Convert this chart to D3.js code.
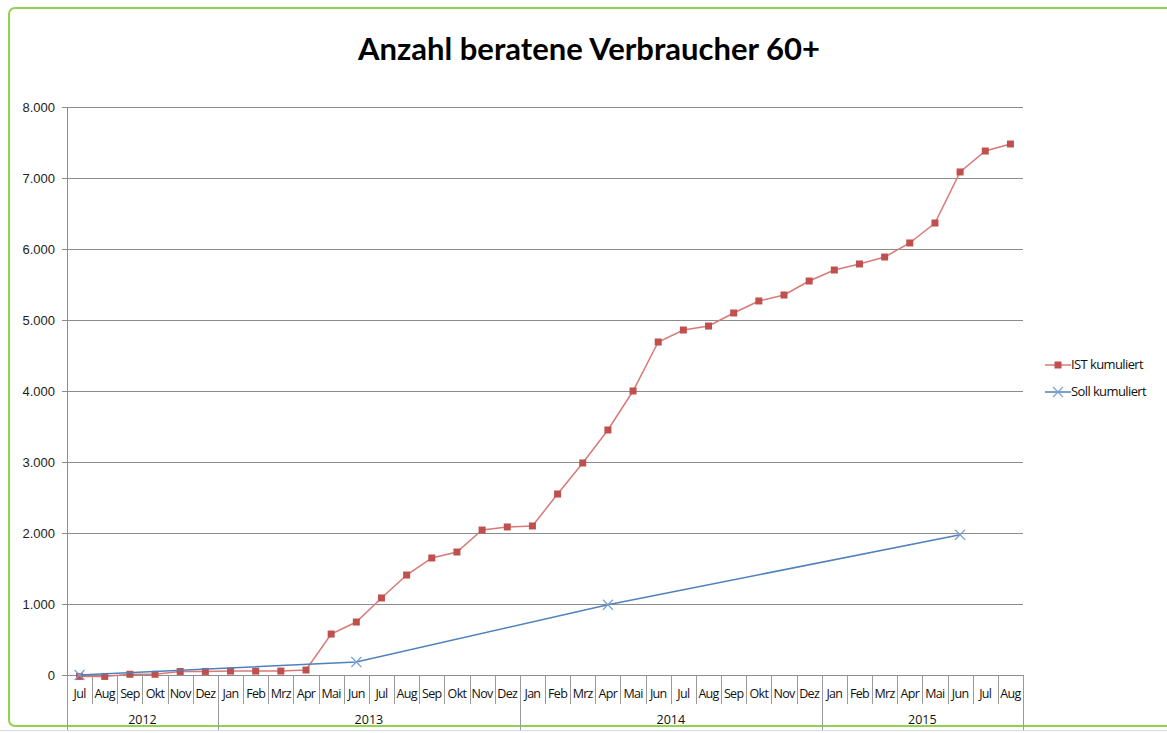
<!DOCTYPE html>
<html>
<head>
<meta charset="utf-8">
<script src="https://cdn.jsdelivr.net/npm/d3@7"></script>
<style>
  body { margin: 0; background: #fff; }
  svg { display: block; }
</style>
</head>
<body>
<div id="chart"></div>
<script>
// month categories, Jul 2012 .. Aug 2015
var months = ['Jul', 'Aug', 'Sep', 'Okt', 'Nov', 'Dez',
    'Jan', 'Feb', 'Mrz', 'Apr', 'Mai', 'Jun', 'Jul', 'Aug', 'Sep', 'Okt', 'Nov', 'Dez',
    'Jan', 'Feb', 'Mrz', 'Apr', 'Mai', 'Jun', 'Jul', 'Aug', 'Sep', 'Okt', 'Nov', 'Dez',
    'Jan', 'Feb', 'Mrz', 'Apr', 'Mai', 'Jun', 'Jul', 'Aug'];
var years = ['2012', '2013', '2014', '2015'];
var yearMonthCounts = [6, 12, 12, 8];

var istValues = [-20, -20, 10, 10, 50, 50,
    55, 55, 55, 70, 577, 746, 1085, 1408, 1648, 1732, 2042, 2085,
    2099, 2549, 2986, 3451, 4000, 4690, 4859, 4915, 5099, 5268, 5352, 5549,
    5704, 5789, 5887, 6085, 6366, 7085, 7380, 7479];
// Soll only has values at a few months, rest are gaps
var sollValues = [0, null, null, null, null, null,
    null, null, null, null, null, 183, null, null, null, null, null, null,
    null, null, null, 990, null, null, null, null, null, null, null, null,
    null, null, null, null, null, 1975, null, null];

var yTicks = [0, 1000, 2000, 3000, 4000, 5000, 6000, 7000, 8000];
var seriesNames = ['IST kumuliert', 'Soll kumuliert'];

(function () {
    var width = 1167, height = 733;
    var plotLeft = 67, plotRight = 1023, plotTop = 107, plotBottom = 675;
    var istColor = '#C0504D', sollColor = '#4F81BD';

    var svg = d3.select('#chart').append('svg')
        .attr('width', width)
        .attr('height', height);

    // green chart frame
    svg.append('rect')
        .attr('x', 9)
        .attr('y', 8)
        .attr('width', 1180)
        .attr('height', 718)
        .attr('rx', 6)
        .attr('fill', '#fff')
        .attr('stroke', '#92D050')
        .attr('stroke-width', 2);

    // faint sheet grid line at the bottom
    svg.append('line')
        .attr('x1', 0).attr('x2', width)
        .attr('y1', 730.5).attr('y2', 730.5)
        .attr('stroke', '#D0D7E5');

    svg.append('text')
        .attr('x', 589)
        .attr('y', 60)
        .attr('text-anchor', 'middle')
        .style('font-family', 'Lato, "Open Sans", sans-serif')
        .style('font-weight', 'bold')
        .style('font-size', '31px')
        .text('Anzahl beratene Verbraucher 60+');

    var x = d3.scaleBand()
        .domain(d3.range(months.length))
        .range([plotLeft, plotRight]);

    var y = d3.scaleLinear()
        .domain([0, 8000])
        .range([plotBottom, plotTop]);

    // gridlines
    svg.append('g')
        .selectAll('line')
        .data(yTicks)
        .enter()
        .append('line')
        .attr('x1', plotLeft - 5)
        .attr('x2', plotRight)
        .attr('y1', function (d) { return Math.round(y(d)) + 0.5; })
        .attr('y2', function (d) { return Math.round(y(d)) + 0.5; })
        .attr('stroke', '#8C8C8C')
        .attr('stroke-width', 1);

    // y axis
    var yAxis = d3.axisLeft(y)
        .tickValues(yTicks)
        .tickSize(0)
        .tickPadding(12)
        .tickFormat(function (d) { return d3.format(',')(d).replace(/,/g, '.'); });

    var yg = svg.append('g')
        .attr('transform', 'translate(' + plotLeft + ',0)')
        .call(yAxis);
    yg.select('.domain').remove();
    yg.selectAll('text')
        .style('font-family', '"Liberation Sans", Arial, sans-serif')
        .style('font-size', '13px')
        .attr('fill', '#222');

    svg.append('line')
        .attr('x1', plotLeft + 0.5).attr('x2', plotLeft + 0.5)
        .attr('y1', plotTop).attr('y2', plotBottom)
        .attr('stroke', '#8C8C8C');

    // category axis: month boxes and year groups
    var catG = svg.append('g');
    function edge (i) { return Math.round(plotLeft + i * x.bandwidth()) + 0.5; }

    catG.selectAll('line.month')
        .data(d3.range(months.length + 1))
        .enter()
        .append('line')
        .attr('class', 'month')
        .attr('x1', edge)
        .attr('x2', edge)
        .attr('y1', plotBottom)
        .attr('y2', plotBottom + 29)
        .attr('stroke', '#9A9A9A');

    var yearStarts = [0];
    yearMonthCounts.forEach(function (c, i) { yearStarts.push(yearStarts[i] + c); });

    catG.selectAll('line.year')
        .data(yearStarts)
        .enter()
        .append('line')
        .attr('class', 'year')
        .attr('x1', edge)
        .attr('x2', edge)
        .attr('y1', plotBottom)
        .attr('y2', 730)
        .attr('stroke', '#9A9A9A');

    catG.selectAll('text.month')
        .data(months)
        .enter()
        .append('text')
        .attr('class', 'month')
        .attr('x', function (d, i) { return x(i) + x.bandwidth() / 2; })
        .attr('y', 698)
        .attr('text-anchor', 'middle')
        .style('font-family', '"Open Sans", sans-serif')
        .style('font-size', '12.5px')
        .style('letter-spacing', '-0.7px')
        .attr('fill', '#111')
        .text(function (d) { return d; });

    catG.selectAll('text.year')
        .data(years)
        .enter()
        .append('text')
        .attr('class', 'year')
        .attr('x', function (d, i) {
            return plotLeft + (yearStarts[i] + yearMonthCounts[i] / 2) * x.bandwidth();
        })
        .attr('y', 724)
        .attr('text-anchor', 'middle')
        .style('font-family', '"Open Sans", sans-serif')
        .style('font-size', '12.5px')
        .attr('fill', '#111')
        .text(function (d) { return d; });

    function cx (i) { return x(i) + x.bandwidth() / 2; }

    function cross (g, px, py, r) {
        g.append('path')
            .attr('d', 'M' + (px - r) + ',' + (py - r) + 'L' + (px + r) + ',' + (py + r) +
                'M' + (px - r) + ',' + (py + r) + 'L' + (px + r) + ',' + (py - r))
            .attr('stroke', '#7BA0CF')
            .attr('stroke-width', 1.2)
            .attr('fill', 'none');
    }

    // IST line with square markers
    svg.append('path')
        .datum(istValues)
        .attr('fill', 'none')
        .attr('stroke', '#D77A78')
        .attr('stroke-width', 1.5)
        .attr('d', d3.line()
            .x(function (d, i) { return cx(i); })
            .y(function (d) { return y(d); }));

    svg.append('g')
        .selectAll('rect')
        .data(istValues)
        .enter()
        .append('rect')
        .attr('x', function (d, i) { return cx(i) - 3.5; })
        .attr('y', function (d) { return y(d) - 3.5; })
        .attr('width', 7)
        .attr('height', 7)
        .attr('fill', istColor);

    // Soll line, gaps connected, drawn on top
    var sollPoints = sollValues
        .map(function (v, i) { return { i: i, v: v }; })
        .filter(function (d) { return d.v !== null; });

    svg.append('path')
        .datum(sollPoints)
        .attr('fill', 'none')
        .attr('stroke', sollColor)
        .attr('stroke-width', 1.5)
        .attr('d', d3.line()
            .x(function (d) { return cx(d.i); })
            .y(function (d) { return y(d.v); }));

    var crossG = svg.append('g');
    sollPoints.forEach(function (d) { cross(crossG, cx(d.i), y(d.v), 5); });

    // legend
    var legend = svg.append('g');
    legend.append('line')
        .attr('x1', 1045).attr('x2', 1071)
        .attr('y1', 365).attr('y2', 365)
        .attr('stroke', '#D77A78').attr('stroke-width', 1.5);
    legend.append('rect')
        .attr('x', 1054.5).attr('y', 361.5)
        .attr('width', 7).attr('height', 7)
        .attr('fill', istColor);
    legend.append('line')
        .attr('x1', 1045).attr('x2', 1071)
        .attr('y1', 392).attr('y2', 392)
        .attr('stroke', sollColor).attr('stroke-width', 1.5);
    cross(legend, 1058, 392, 5);

    legend.selectAll('text')
        .data(seriesNames)
        .enter()
        .append('text')
        .attr('x', 1071)
        .attr('y', function (d, i) { return 369 + i * 27; })
        .style('font-family', '"Open Sans", sans-serif')
        .style('font-size', '13px')
        .style('letter-spacing', '-0.6px')
        .attr('fill', '#111')
        .text(function (d) { return d; });
})();
</script>
</body>
</html>
